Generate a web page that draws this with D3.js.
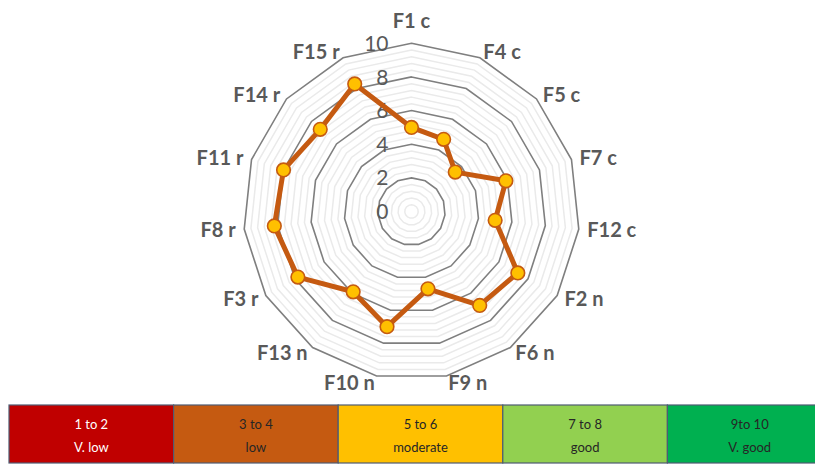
<!DOCTYPE html>
<html>
<head>
<meta charset="utf-8">
<script src="https://cdn.jsdelivr.net/npm/d3@7"></script>
<style>
  html, body { margin: 0; padding: 0; background: #ffffff; }
  svg { display: block; }
</style>
</head>
<body>
<svg id="chart" width="815" height="465"></svg>
<script>
// Factor scores, clockwise from the top
const categories = ["F1 c", "F4 c", "F5 c", "F7 c", "F12 c", "F2 n", "F6 n", "F9 n",
                    "F10 n", "F13 n", "F3 r", "F8 r", "F11 r", "F14 r", "F15 r"];
const scores = [5.0, 4.7, 3.5, 5.9, 5.0, 7.3, 6.9, 4.7, 7.0, 5.9, 7.8, 8.2, 8.0, 7.3, 8.3];
const tickValues = [0, 2, 4, 6, 8, 10];

// Rating bands shown in the key under the chart
const bandRanges = ["1 to 2", "3 to 4", "5 to 6", "7 to 8", "9to 10"];
const bandNames = ["V. low", "low", "moderate", "good", "V. good"];

const bandColors = ["#C00000", "#C55A11", "#FFC000", "#92D050", "#00B050"];
const bandTextColors = ["#FFFFFF", "#262626", "#262626", "#262626", "#262626"];

const W = 815, H = 465;
const cx = 411.5, cy = 211.5, R = 168.2;
const svg = d3.select("#chart");

const r = d3.scaleLinear().domain([0, 10]).range([0, R]);
const angle = d3.scalePoint().domain(categories).range([0, 2 * Math.PI * (categories.length - 1) / categories.length]);

const g = svg.append("g").attr("transform", `translate(${cx},${cy})`);

// polygon path for a ring at a given value
const ringLine = d3.lineRadial()
  .angle(d => angle(d))
  .curve(d3.curveLinearClosed);
function ringPath(v) {
  return ringLine.radius(() => r(v))(categories);
}

// minor rings every 0.4
const minorVals = d3.range(1, 25).map(i => +(i * 0.4).toFixed(1)).filter(v => Math.abs(v / 2 - Math.round(v / 2)) > 1e-6);
g.selectAll("path.minor").data(minorVals).join("path")
  .attr("class", "minor")
  .attr("d", d => ringPath(d))
  .attr("fill", "none")
  .attr("stroke", "#EAEAEA")
  .attr("stroke-width", 1.5);

// major rings
g.selectAll("path.major").data(tickValues.filter(v => v > 0)).join("path")
  .attr("class", "major")
  .attr("d", d => ringPath(d))
  .attr("fill", "none")
  .attr("stroke", "#7F7F7F")
  .attr("stroke-width", 1.6);

// value axis labels
g.selectAll("text.tick").data(tickValues).join("text")
  .attr("class", "tick")
  .attr("x", -23)
  .attr("y", d => -r(d))
  .attr("dy", "0.36em")
  .attr("text-anchor", "end")
  .attr("font-family", "Lato, 'Open Sans', sans-serif")
  .attr("font-size", 21)
  .attr("fill", "#595959")
  .text(d => d);

// score polygon
const seriesLine = d3.lineRadial()
  .angle((d, i) => angle(categories[i]))
  .radius(d => r(d))
  .curve(d3.curveLinearClosed);
g.append("path")
  .attr("d", seriesLine(scores))
  .attr("fill", "none")
  .attr("stroke", "#C55A11")
  .attr("stroke-width", 5)
  .attr("stroke-linejoin", "round");

g.selectAll("circle.pt").data(scores).join("circle")
  .attr("class", "pt")
  .attr("cx", (d, i) => r(d) * Math.sin(angle(categories[i])))
  .attr("cy", (d, i) => -r(d) * Math.cos(angle(categories[i])))
  .attr("r", 6.8)
  .attr("fill", "#FFC000")
  .attr("stroke", "#C55A11")
  .attr("stroke-width", 1.6);

// category labels around the outer ring
g.selectAll("text.cat").data(categories).join("text")
  .attr("class", "cat")
  .each(function (d) {
    const a = angle(d);
    const s = Math.sin(a), c = Math.cos(a);
    const vx = R * s, vy = -R * c;
    const t = d3.select(this);
    if (Math.abs(s) < 1e-6) {
      t.attr("x", vx).attr("y", vy - 23).attr("text-anchor", "middle");
    } else {
      t.attr("x", vx + 8.5 * s)
       .attr("y", vy - 6.5 * c)
       .attr("text-anchor", s > 0 ? "start" : "end");
    }
  })
  .attr("dy", "0.36em")
  .attr("font-family", "Lato, 'Open Sans', sans-serif")
  .attr("font-weight", "bold")
  .attr("font-size", 20)
  .attr("fill", "#595959")
  .text(d => d);

// rating key (last cell runs past the right edge)
const keyX = d3.scaleBand().domain(d3.range(bandRanges.length)).range([9, 832]);
const keyTop = 405, keyH = 58;
const key = svg.append("g");
const cells = key.selectAll("g.cell").data(bandRanges).join("g").attr("class", "cell");
cells.append("rect")
  .attr("x", (d, i) => keyX(i))
  .attr("y", keyTop)
  .attr("width", keyX.bandwidth())
  .attr("height", keyH)
  .attr("fill", (d, i) => bandColors[i])
  .attr("stroke", "#4F5B72")
  .attr("stroke-width", 1.2);
cells.append("text")
  .attr("x", (d, i) => keyX(i) + keyX.bandwidth() / 2)
  .attr("y", keyTop + 19)
  .attr("dy", "0.36em")
  .attr("text-anchor", "middle")
  .attr("font-family", "Lato, 'Open Sans', sans-serif")
  .attr("font-size", 13)
  .attr("fill", (d, i) => bandTextColors[i])
  .text(d => d);
cells.append("text")
  .attr("x", (d, i) => keyX(i) + keyX.bandwidth() / 2)
  .attr("y", keyTop + 42)
  .attr("dy", "0.36em")
  .attr("text-anchor", "middle")
  .attr("font-family", "Lato, 'Open Sans', sans-serif")
  .attr("font-size", 13)
  .attr("fill", (d, i) => bandTextColors[i])
  .text((d, i) => bandNames[i]);
</script>
</body>
</html>
